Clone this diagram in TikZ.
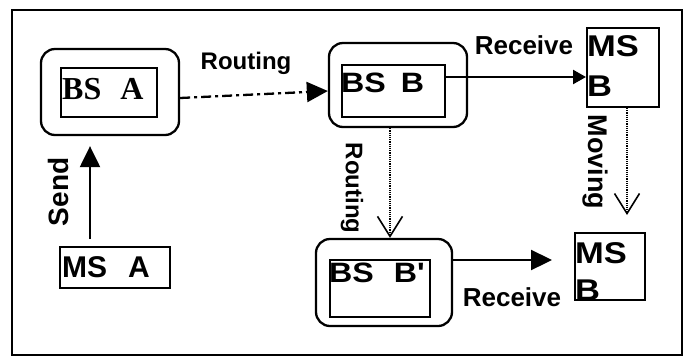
\documentclass[tikz,border=0pt]{standalone}
\usepackage{fontspec}
\setmainfont{Liberation Serif}
\newfontfamily\arialfont{Liberation Sans}
\newfontfamily\arialwide{Liberation Sans}[FakeStretch=1.15]
\usetikzlibrary{arrows.meta}
\begin{document}
\begin{tikzpicture}[x=1pt,y=-1pt,
  outerbox/.style={draw, line width=2.3pt, rounded corners=14pt, inner sep=0pt},
  innerbox/.style={draw, line width=2.3pt, inner sep=0pt},
  plainbox/.style={draw, line width=2pt, inner sep=0pt},
  lbl/.style={font=\arialfont\bfseries\fontsize{24}{26}\selectfont, inner sep=0pt},
  boxtext/.style={font=\arialwide\bfseries\fontsize{28}{30}\selectfont, inner sep=0pt, anchor=west},
  serifbox/.style={font=\bfseries\fontsize{32}{34}\selectfont, inner sep=0pt, anchor=west},
  bigtip/.style={-{Triangle[length=21pt,width=20pt]}},
  vtip/.style={-{Straight Barb[length=20pt,width=25pt,line width=1.6pt]}},
  dotline/.style={line width=1.3pt, dash pattern=on 1.2pt off 1pt}
]
\useasboundingbox (0,0) rectangle (686,360);
\draw[line width=2.3pt] (12,10) rectangle (682,355);

% boxes
\node[outerbox, minimum width=138pt, minimum height=86pt] (bsAo) at (110,92) {};
\node[innerbox, minimum width=96pt, minimum height=49pt] (bsAi) at (109,92.5) {};
\node[serifbox] (tBSA) at (62,89.5) {BS\hspace{19pt}A};

\node[outerbox, minimum width=138pt, minimum height=84pt] (bsBo) at (398,85) {};
\node[innerbox, minimum width=103pt, minimum height=52pt] (bsBi) at (393.5,91) {};
\node[boxtext] (tBSB) at (341,83) {BS\hspace{15pt}B};

\node[outerbox, minimum width=136pt, minimum height=87pt] (bsBpo) at (384,282.5) {};
\node[innerbox, minimum width=100pt, minimum height=57pt] (bsBpi) at (380,288.5) {};
\node[boxtext] (tBSBp) at (329,273) {BS\hspace{20pt}B'};

\node[plainbox, minimum width=110pt, minimum height=41pt] (msA) at (115,267.5) {};
\node[boxtext, font=\arialfont\bfseries\fontsize{30}{32}\selectfont] (tMSA) at (62,267) {MS\hspace{21pt}A};

\node[plainbox, minimum width=72pt, minimum height=79pt] (msB1) at (623,67.5) {};
\node[boxtext, font=\arialwide\bfseries\fontsize{30}{32}\selectfont] (tMSB1a) at (587,46) {MS};
\node[boxtext, font=\arialwide\bfseries\fontsize{30}{32}\selectfont] (tMSB1b) at (587,86) {B};

\node[plainbox, minimum width=70pt, minimum height=67pt] (msB2) at (610,266.5) {};
\node[boxtext, font=\arialwide\bfseries\fontsize{30}{32}\selectfont] (tMSB2a) at (575,253) {MS};
\node[boxtext, font=\arialwide\bfseries\fontsize{30}{32}\selectfont] (tMSB2b) at (575,290) {B};

% labels
\node[lbl] (lRouting) at (246,63) {Routing};
\node[lbl, font=\arialfont\bfseries\fontsize{26}{27}\selectfont] (lRecTop) at (524,45) {Receive};
\node[lbl, font=\arialfont\bfseries\fontsize{26}{27}\selectfont] (lRecBot) at (512,297) {Receive};
\node[lbl, font=\arialfont\bfseries\fontsize{28}{30}\selectfont, rotate=90] (lSend) at (58,192) {Send};
\node[lbl, rotate=-90] (lRoutingV) at (352,188) {Routing};
\node[lbl, font=\arialfont\bfseries\fontsize{27}{28}\selectfont, rotate=-90] (lMoving) at (595,162) {Moving};

% connectors
\draw[line width=2.3pt, dash pattern=on 10pt off 4pt on 3pt off 4pt, bigtip]
  ([yshift=-6pt]bsAo.east) -- ([yshift=-6pt]bsBo.west);
\draw[line width=2.3pt, -{Triangle[length=13pt,width=14pt]}]
  ([yshift=14pt]bsBi.east) -- ([yshift=-9.5pt]msB1.west);
\draw[line width=2.3pt, bigtip, shorten >=22pt]
  ([yshift=22.5pt]bsBpo.east) -- ([yshift=6.5pt]msB2.west);
\draw[line width=2.3pt, bigtip, shorten <=7pt, shorten >=10pt]
  ([xshift=-25pt]msA.north) -- ([xshift=-20pt]bsAo.south);
\draw[dotline, vtip] ([xshift=-8pt]bsBo.south) -- ([xshift=6pt]bsBpo.north);
\coordinate (moveEnd) at (627,215);
\draw[dotline, vtip] ([xshift=4pt]msB1.south) -- (moveEnd);
\end{tikzpicture}
\end{document}
